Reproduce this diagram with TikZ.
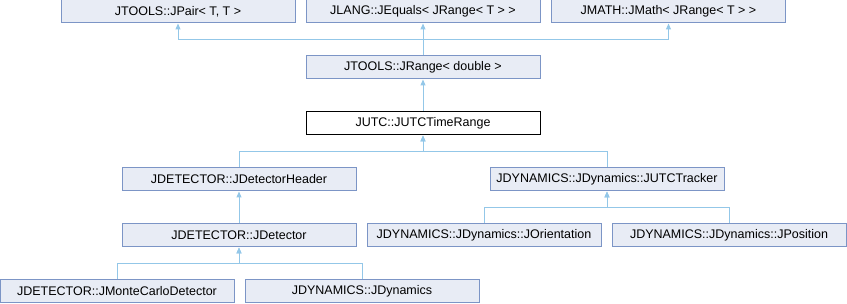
\documentclass[tikz,border=0pt]{standalone}
\usepackage{fontspec}
\setmainfont{Liberation Sans}
\usetikzlibrary{arrows.meta}
\definecolor{clsfill}{RGB}{232, 236, 245}
\definecolor{clsdraw}{RGB}{124, 149, 198}
\definecolor{inhline}{RGB}{147, 199, 232}

\begin{document}
\begin{tikzpicture}[
  x=1pt, y=-1pt,
  cls/.style={draw=clsdraw, fill=clsfill, line width=1pt,
              minimum width=234pt, minimum height=23pt, inner sep=0pt,
              font=\fontsize{12.5}{14}\selectfont},
  cur/.style={cls, draw=black, fill=white},
  inh/.style={{Triangle[length=6pt, width=5pt]}-, line width=1pt, color=inhline}
]
  \useasboundingbox (0,0) rectangle (847,304);

  \node[cls] (pair)     at (178,11.5)   {JTOOLS::JPair< T, T >};
  \node[cls] (equals)   at (423,11.5)   {JLANG::JEquals< JRange< T > >};
  \node[cls] (math)     at (668.5,11.5) {JMATH::JMath< JRange< T > >};
  \node[cls] (range)    at (423,67.5)   {JTOOLS::JRange< double >};
  \node[cur] (utc)      at (423,123.5)  {JUTC::JUTCTimeRange};
  \node[cls] (header)   at (239,179.5)  {JDETECTOR::JDetectorHeader};
  \node[cls] (tracker)  at (607,179.5)  {JDYNAMICS::JDynamics::JUTCTracker};
  \node[cls] (detector) at (239,235.5)  {JDETECTOR::JDetector};
  \node[cls] (orient)   at (484,235.5)  {JDYNAMICS::JDynamics::JOrientation};
  \node[cls] (position) at (729,235.5)  {JDYNAMICS::JDynamics::JPosition};
  \node[cls] (monte)    at (117,291.5)  {JDETECTOR::JMonteCarloDetector};
  \node[cls] (dyn)      at (362,291.5)  {JDYNAMICS::JDynamics};

  \draw[inh] (pair.south)     |- ([yshift=16pt]range.north) -- (range.north);
  \draw[inh] (equals.south)   -- (range.north);
  \draw[inh] (math.south)     |- ([yshift=16pt]range.north) -- (range.north);
  \draw[inh] (range.south)    -- (utc.north);
  \draw[inh] (utc.south)      |- ([yshift=16pt]header.north) -- (header.north);
  \draw[inh] (utc.south)      |- ([yshift=16pt]tracker.north) -- (tracker.north);
  \draw[inh] (header.south)   -- (detector.north);
  \draw[inh] (tracker.south)  |- ([yshift=16pt]orient.north) -- (orient.north);
  \draw[inh] (tracker.south)  |- ([yshift=16pt]position.north) -- (position.north);
  \draw[inh] (detector.south) |- ([yshift=16pt]monte.north) -- (monte.north);
  \draw[inh] (detector.south) |- ([yshift=16pt]dyn.north) -- (dyn.north);
\end{tikzpicture}
\end{document}
